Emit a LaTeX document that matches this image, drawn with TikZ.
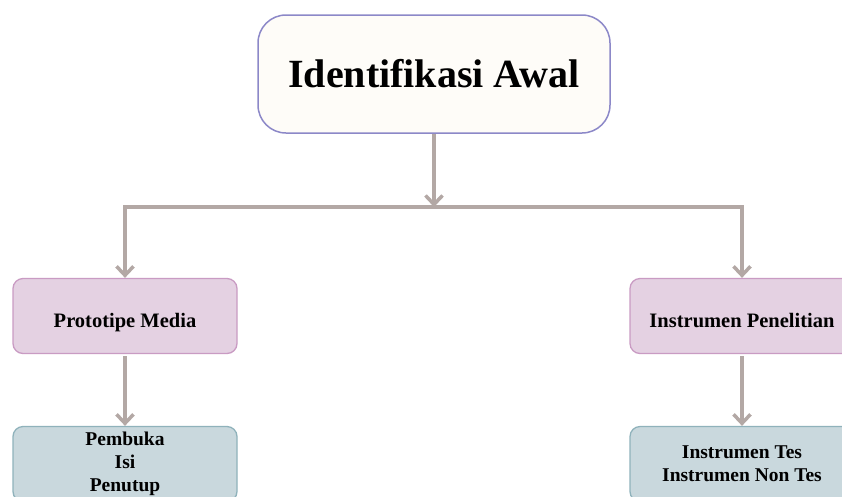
\documentclass[tikz,border=0pt]{standalone}
\usepackage{fontspec}
\setmainfont{Liberation Serif}
\usetikzlibrary{positioning,arrows.meta}
\definecolor{linkgray}{HTML}{B3A8A5}
\definecolor{topfill}{HTML}{FEFCF8}
\definecolor{topline}{HTML}{8C88C8}
\definecolor{midfill}{HTML}{E4D1E2}
\definecolor{midline}{HTML}{C99BC3}
\definecolor{lowfill}{HTML}{C9D8DD}
\definecolor{lowline}{HTML}{8FB2BB}
\newcommand{\lowered}[1]{\raisebox{-4pt}[\height][0pt]{#1}}

\begin{document}
\begin{tikzpicture}[x=1pt,y=-1pt,
  topbox/.style={draw=topline, fill=topfill, line width=1.5pt, rounded corners=28pt,
    minimum width=352pt, minimum height=118pt,
    font=\fontsize{40}{48}\selectfont\bfseries},
  midbox/.style={draw=midline, fill=midfill, line width=1.3pt, rounded corners=10pt,
    minimum width=224pt, minimum height=75pt,
    font=\fontsize{20.5}{24}\selectfont\bfseries},
  lowbox/.style={draw=lowline, fill=lowfill, line width=1.3pt, rounded corners=10pt,
    minimum width=224pt, minimum height=75pt, align=center,
    font=\fontsize{19.5}{23}\selectfont\bfseries},
  link/.style={draw=linkgray, line width=3.5pt,
    -{Straight Barb[length=9pt,width=17pt,line width=3.5pt]}}]
  \useasboundingbox (0,0) rectangle (842,496);
  \clip (0,0) rectangle (842,496);

  % top
  \node[topbox] (awal) at (434,74) {Identifikasi Awal};

  % second row
  \node[midbox] (prototipe) at (125,316) {\lowered{Prototipe Media}};
  \node[midbox] (instrumen) at (742,316) {\lowered{Instrumen Penelitian}};

  % third row
  \node[lowbox] (isiMedia) at (125,464) {Pembuka\\Isi\\Penutup};
  \node[lowbox] (jenisInstrumen) at (742,464) {Instrumen Tes\\Instrumen Non Tes};

  % branching
  \coordinate (split) at (awal.south |- 0,207);
  \draw[link] (awal.south) -- (split);
  \draw[link] (split) -| (prototipe.north);
  \draw[link] (split) -| (instrumen.north);

  % down to details
  \draw[link, shorten <=2pt] (prototipe.south) -- (isiMedia.north);
  \draw[link, shorten <=2pt] (instrumen.south) -- (jenisInstrumen.north);
\end{tikzpicture}
\end{document}
